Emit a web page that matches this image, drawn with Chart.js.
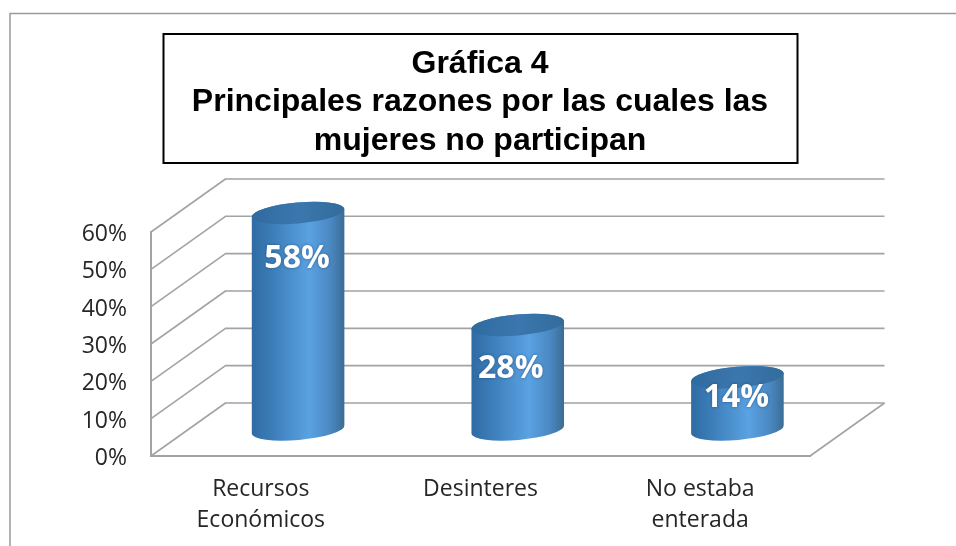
<!DOCTYPE html>
<html><head><meta charset="utf-8">
<style>html,body{margin:0;padding:0;background:#fff}canvas{display:block}</style>
<script src="https://cdn.jsdelivr.net/npm/chart.js@4"></script>
</head><body><canvas id="c" width="956" height="546"></canvas>
<script>
const titleLines = ["Gráfica 4","Principales razones por las cuales las","mujeres no participan"];
const categories = [["Recursos","Económicos"],["Desinteres"],["No estaba","enterada"]];
const values = [58,28,14];
const yTicksMax = 60;
const yTicksStep = 10;

const DEPTH_X = 74.5, DEPTH_Y = -53, GRID = '#a3a3a3';
const tilt = -5*Math.PI/180, RY = 10.5;

function drawCylinder(ctx){
  const p = this.getProps(['x','y','base','width'],true);
  const cx = p.x+DEPTH_X/2, top = p.y+DEPTH_Y/2, bot = p.base+DEPTH_Y/2, rx = p.width/2;
  const g = ctx.createLinearGradient(cx-rx,0,cx+rx,0);
  g.addColorStop(0,'#2f6ba3'); g.addColorStop(0.25,'#3e80bc');
  g.addColorStop(0.62,'#5aa2e2'); g.addColorStop(0.85,'#4a88c2'); g.addColorStop(1,'#3b6c94');
  ctx.save();
  ctx.beginPath();
  ctx.ellipse(cx,bot,rx,RY,tilt,0,Math.PI);
  ctx.ellipse(cx,top,rx,RY,tilt,Math.PI,2*Math.PI);
  ctx.closePath();
  ctx.fillStyle = g; ctx.fill();
  const g2 = ctx.createLinearGradient(cx-rx,0,cx+rx,0);
  g2.addColorStop(0,'#2f6a9f'); g2.addColorStop(0.5,'#3b77ae'); g2.addColorStop(1,'#336c9c');
  ctx.beginPath();
  ctx.ellipse(cx,top,rx,RY,tilt,0,2*Math.PI);
  ctx.fillStyle = g2; ctx.fill();
  ctx.restore();
}

const scene = {
  id:'scene',
  beforeDraw(chart){
    const c = chart.ctx;
    c.save();
    c.fillStyle='#fff'; c.fillRect(0,0,chart.width,chart.height);
    c.strokeStyle='#9a9a9a'; c.lineWidth=1.5;
    c.beginPath(); c.moveTo(10,chart.height); c.lineTo(10,13.5); c.lineTo(chart.width,13.5); c.stroke();
    c.strokeStyle='#000'; c.lineWidth=2; c.strokeRect(163.5,34,634,129);
    c.restore();
  },
  beforeDatasetsDraw(chart){
    const c = chart.ctx, y = chart.scales.y, a = chart.chartArea;
    c.save(); c.strokeStyle=GRID; c.lineWidth=1.6; c.lineJoin='round';
    y.ticks.forEach(t=>{
      const py = y.getPixelForValue(t.value);
      c.beginPath(); c.moveTo(a.left,py); c.lineTo(a.left+DEPTH_X,py+DEPTH_Y); c.lineTo(a.right+DEPTH_X,py+DEPTH_Y); c.stroke();
    });
    const p0 = y.getPixelForValue(0);
    c.beginPath(); c.moveTo(a.right,p0); c.lineTo(a.right+DEPTH_X,p0+DEPTH_Y); c.stroke();
    c.restore();
    chart.getDatasetMeta(0).data.forEach(el=>{el.draw = drawCylinder;});
  },
  afterDatasetsDraw(chart,args,opts){
    const c = chart.ctx;
    c.save(); c.font='700 32px "Open Sans"'; c.fillStyle='#fff'; c.textAlign='center'; c.textBaseline='middle';
    c.shadowColor='rgba(20,50,90,.55)'; c.shadowBlur=3;
    chart.getDatasetMeta(0).data.forEach((el,i)=>{
      c.fillText(values[i]+'%', el.x+DEPTH_X/2+opts.nudgeX[i], el.y+DEPTH_Y/2+opts.nudgeY[i]);
    });
    c.restore();
  }
};

new Chart(document.getElementById('c'),{
  type:'bar',
  data:{labels:categories,datasets:[{data:values,backgroundColor:'#4583bc',barPercentage:0.423,categoryPercentage:1,clip:false}]},
  plugins:[scene],
  options:{
    responsive:false,animation:false,
    layout:{padding:{left:4,right:0,top:0,bottom:0}},
    plugins:{
      legend:{display:false},tooltip:{enabled:false},
      title:{display:true,text:titleLines,color:'#000',align:'center',
        font:{family:'"Liberation Sans"',size:32,weight:'700',lineHeight:1.203},
        padding:{top:44.5,bottom:72}},
      scene:{nudgeX:[-1,-7,-1],nudgeY:[46,44,21]}
    },
    scales:{
      x:{grid:{display:false,drawTicks:false},border:{display:true,color:GRID,width:2},
        afterFit(s){s.height=90;},
        ticks:{color:'#262626',padding:18,maxRotation:0,autoSkip:false,font:{family:'"Open Sans"',size:23,lineHeight:1.35}}},
      y:{min:0,max:yTicksMax,grid:{display:false,drawTicks:false},border:{display:true,color:GRID,width:2},
        afterFit(s){s.width=147;},
        ticks:{stepSize:yTicksStep,color:'#262626',padding:24,labelOffset:2.5,font:{family:'"Open Sans"',size:23},callback:v=>v+'%'}},
      gutter:{type:'linear',position:'right',display:true,grid:{display:false},border:{display:false},
        ticks:{display:false},afterFit(s){s.width=146;}}
    }
  }
});
</script></body></html>
